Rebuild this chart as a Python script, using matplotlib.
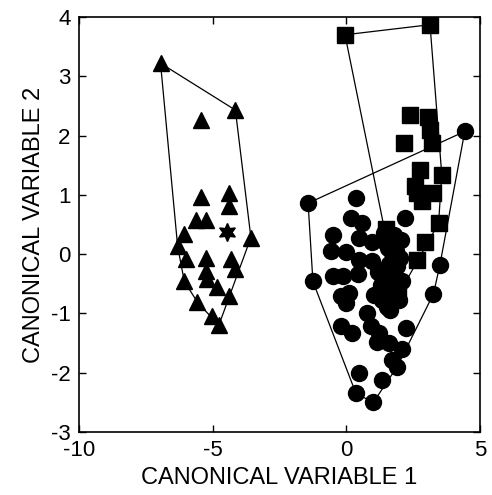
import matplotlib
matplotlib.use("Agg")
import matplotlib.pyplot as plt
import numpy as np

plt.rcParams['font.family'] = ['Liberation Sans', 'DejaVu Sans']
plt.rcParams['axes.unicode_minus'] = False

# Group 1: triangles
tri_x = [-6.95, -4.15, -5.44, -5.44, -4.40, -4.40, -5.63, -5.26, -6.06, -3.57,
         -6.31, -6.00, -5.26, -4.30, -4.15, -5.26, -5.20, -6.06, -4.85, -4.40,
         -5.57, -5.01, -4.77]
tri_y = [3.22, 2.43, 2.27, 0.97, 1.03, 0.82, 0.58, 0.58, 0.34, 0.28,
         0.13, -0.09, -0.07, -0.08, -0.25, -0.28, -0.42, -0.46, -0.56, -0.71,
         -0.81, -1.04, -1.20]

# Single starred specimen
star_x = [-4.45]
star_y = [0.38]

# Group 2: squares
sq_x = [-0.05, 3.13, 2.40, 3.07, 3.14, 2.15, 3.20, 2.77, 3.57, 2.58,
        2.64, 3.26, 2.83, 3.45, 1.50, 2.95, 2.64, 1.93]
sq_y = [3.70, 3.87, 2.35, 2.32, 2.10, 1.87, 1.87, 1.42, 1.34, 1.15,
        1.03, 1.03, 0.89, 0.52, 0.42, 0.20, -0.10, -0.70]

# Group 3: circles
circ_x = [4.43, -1.43, -1.25, 3.50, 3.26, 0.36, 1.01, 1.35, 2.09, 2.25,
          0.48, 0.36, 2.21, 0.17, 0.58, -0.51, 0.48, 0.97, 1.41, 1.78,
          2.03, -0.57, -0.03, 0.48, 0.95, 1.72, 2.02, 1.60, -0.51, -0.13,
          0.42, 1.78, 2.10, -0.20, 0.11, -0.01, 1.04, 1.41, 1.53, 1.96,
          1.28, 1.59, 1.35, 1.84, 1.65, 0.79, -0.20, 0.23, 0.91, 1.22,
          1.16, 1.59, 1.71, 1.90, 1.55, 1.85, 1.20, 1.70, 1.90, 1.45]
circ_y = [2.07, 0.86, -0.46, -0.18, -0.67, -2.35, -2.50, -2.12, -1.60, -1.25,
          -2.00, 0.95, 0.61, 0.61, 0.52, 0.32, 0.28, 0.21, 0.35, 0.33,
          0.24, 0.05, 0.04, -0.10, -0.12, 0.02, -0.07, -0.17, -0.37, -0.37,
          -0.33, -0.26, -0.45, -0.70, -0.65, -0.82, -0.69, -0.60, -0.89, -0.77,
          -0.52, -0.60, -0.77, -0.74, -0.94, -1.00, -1.22, -1.33, -1.22, -1.33,
          -1.48, -1.50, -1.78, -1.90, 0.10, 0.05, -0.30, -0.35, -0.20, 0.20]

x_ticks = [-10, -5, 0, 5]
y_ticks = [-3, -2, -1, 0, 1, 2, 3, 4]
x_label = "CANONICAL VARIABLE 1"
y_label = "CANONICAL VARIABLE 2"


def hull(xs, ys):
    pts = sorted(set(zip(xs, ys)))

    def cross(o, a, b):
        return (a[0] - o[0]) * (b[1] - o[1]) - (a[1] - o[1]) * (b[0] - o[0])

    lower, upper = [], []
    for p in pts:
        while len(lower) >= 2 and cross(lower[-2], lower[-1], p) <= 0:
            lower.pop()
        lower.append(p)
    for p in reversed(pts):
        while len(upper) >= 2 and cross(upper[-2], upper[-1], p) <= 0:
            upper.pop()
        upper.append(p)
    h = lower[:-1] + upper[:-1]
    h.append(h[0])
    return [p[0] for p in h], [p[1] for p in h]


fig = plt.figure(figsize=(4.92, 4.95), dpi=100)
ax = fig.add_axes([79 / 492, 1 - 432 / 495, 401 / 492, 415 / 495])

for gx, gy in [(tri_x + star_x, tri_y + star_y), (sq_x, sq_y), (circ_x, circ_y)]:
    hx, hy = hull(gx, gy)
    ax.plot(hx, hy, color='black', lw=0.9, zorder=2)

ax.plot(tri_x, tri_y, ls='none', marker='^', ms=12, color='black', zorder=3)
ax.plot(star_x, star_y, ls='none', marker=(6, 1, 0), ms=13, color='black', zorder=3)
ax.plot(sq_x, sq_y, ls='none', marker='s', ms=11, color='black', zorder=3)
ax.plot(circ_x, circ_y, ls='none', marker='o', ms=11.5, color='black', zorder=3)

ax.set_xlim(-10, 5)
ax.set_ylim(-3, 4)
ax.set_xticks(x_ticks)
ax.set_yticks(y_ticks)
ax.tick_params(direction='in', length=5, width=1, top=True, right=True,
               labelsize=16, pad=6)
for s in ax.spines.values():
    s.set_linewidth(1.2)
ax.set_xlabel(x_label, fontsize=17, labelpad=4)
ax.set_ylabel(y_label, fontsize=17, labelpad=4)

fig.savefig("out.png", dpi=100)
